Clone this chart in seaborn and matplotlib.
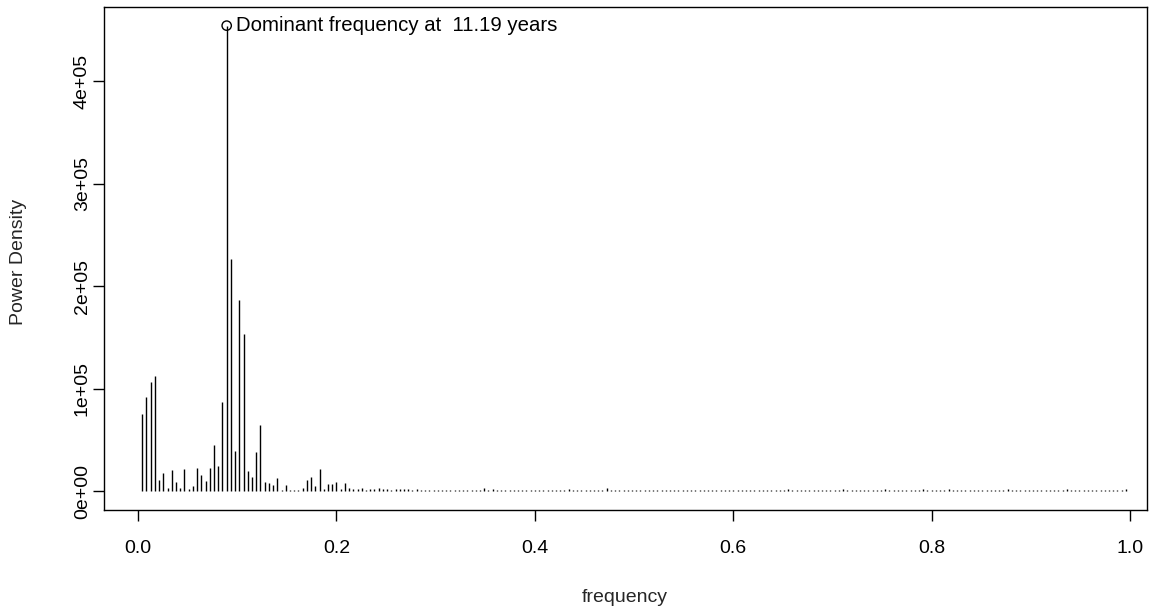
import numpy as np
import pandas as pd
import matplotlib
matplotlib.use("Agg")
import matplotlib.pyplot as plt
import seaborn as sns

# ---- data -------------------------------------------------------------
n_len = 235
harmonic = list(range(1, 235))           # k = 1..234, frequency = k / n_len
power_low_k = [                           # k = 1..66, thousands
    75.8, 92.0, 106.6, 112.0, 10.7, 18.0, 3.0, 20.5, 9.0, 3.0,
    21.5, 2.0, 5.0, 22.7, 15.6, 9.8, 22.7, 45.5, 24.4, 87.0,
    454.0, 227.0, 39.0, 187.0, 153.0, 19.5, 14.0, 38.4, 64.4, 8.8,
    8.0, 5.9, 12.7, 1.3, 5.9, 1.3, 1.3, 1.3, 3.6, 11.0,
    13.7, 5.0, 21.5, 2.3, 7.0, 7.5, 9.0, 2.5, 8.5, 3.0,
    2.0, 2.5, 3.0, 1.5, 2.0, 2.5, 3.0, 2.0, 2.0, 1.5,
    2.0, 2.0, 2.0, 2.0, 1.5, 2.5,
]
power_high_k = [                          # k = 67..234, thousands
    1.8, 1.2, 1.5, 1.0, 1.4, 1.6, 1.1, 1.3, 1.7, 1.0, 1.2, 1.5,
    1.1, 1.4, 1.6, 3.5, 1.2, 2.5, 1.3, 1.0, 1.4, 1.2, 1.1, 1.5,
    1.0, 1.3, 1.2, 1.4, 1.1, 1.0, 1.3, 1.2, 1.5, 1.1, 1.4, 2.5,
    1.2, 1.0, 1.3, 1.1, 1.4, 1.2, 1.0, 1.6, 3.0, 1.3, 1.1, 1.2,
    1.0, 1.1, 1.3, 1.2, 1.0, 1.1, 1.2, 1.0, 1.3, 1.1, 1.0, 1.2,
    1.1, 1.0, 1.2, 1.3, 1.0, 1.1, 1.2, 1.0, 1.1, 1.3, 1.0, 1.2,
    1.1, 1.0, 1.2, 1.1, 1.0, 1.3, 1.1, 1.0, 1.2, 1.1, 1.0, 1.2,
    1.1, 1.3, 1.4, 2.4, 1.2, 1.0, 1.3, 1.1, 1.2, 1.0, 1.1, 1.3,
    1.2, 1.0, 1.1, 1.4, 2.3, 1.2, 1.0, 1.1, 1.3, 1.2, 1.0, 1.1,
    1.3, 1.4, 2.4, 1.2, 1.1, 1.0, 1.3, 1.2, 1.1, 1.4, 1.3, 2.3,
    1.2, 1.1, 1.3, 1.0, 1.4, 2.4, 1.2, 1.1, 1.0, 1.3, 1.2, 1.1,
    1.0, 1.2, 1.1, 1.3, 1.2, 1.4, 1.3, 2.2, 1.1, 1.0, 1.2, 1.1,
    1.3, 1.0, 1.1, 1.2, 1.0, 1.3, 1.2, 1.4, 1.3, 2.5, 1.1, 1.2,
    1.0, 1.1, 1.3, 1.2, 1.0, 1.1, 1.2, 1.0, 1.3, 1.1, 1.2, 2.0,
]
x_ticks = [0.0, 0.2, 0.4, 0.6, 0.8, 1.0]
x_tick_labels = ["0.0", "0.2", "0.4", "0.6", "0.8", "1.0"]
y_ticks = [0, 100000, 200000, 300000, 400000]
y_tick_labels = ["0e+00", "1e+05", "2e+05", "3e+05", "4e+05"]
annotation = "Dominant frequency at  11.19 years"

# ---- frame ------------------------------------------------------------
df = pd.DataFrame({
    "frequency": np.array(harmonic) / n_len,
    "power": np.array(power_low_k + power_high_k) * 1000.0,
})
peak = df.loc[df["power"].idxmax()]

sns.set_theme(style="ticks")
plt.rcParams["font.family"] = ["Liberation Sans", "DejaVu Sans"]
FS = 14

fig = plt.figure(figsize=(11.55, 6.08), dpi=100)
ax = fig.add_axes([104 / 1155, 1 - 510 / 608, (1147 - 104) / 1155, (510 - 7) / 608])

ax.vlines(df["frequency"], 0, df["power"], colors="black", linewidth=1.0)
sns.scatterplot(x=[peak["frequency"]], y=[peak["power"]], ax=ax, marker="o",
                s=45, facecolors="none", edgecolor="black", linewidth=1.0,
                zorder=3, legend=False)
ax.annotate(annotation, xy=(peak["frequency"], peak["power"]),
            xytext=(7, 0), textcoords="offset points",
            ha="left", va="center", fontsize=14.7, color="black")

ax.set_xlim(-0.0343, 1.017)
yr = df["power"].max()
ax.set_ylim(-0.04 * yr, yr * 1.04)

ax.set_xticks(x_ticks)
ax.set_xticklabels(x_tick_labels)
ax.set_yticks(y_ticks)
ax.set_yticklabels(y_tick_labels, rotation=90, va="center")
ax.tick_params(axis="x", length=8, width=1, pad=13.5, labelsize=FS, colors="black")
ax.tick_params(axis="y", length=8, width=1, pad=1.5, labelsize=FS, colors="black")
for s in ax.spines.values():
    s.set_visible(True)
    s.set_color("black")
    s.set_linewidth(1.0)
ax.set_xlabel("")
ax.set_ylabel("")
ax.grid(False)

fig.text(625 / 1155, 1 - 597 / 608, "frequency", ha="center", va="center", fontsize=FS)
fig.text(19 / 1155, 1 - 262 / 608, "Power Density", ha="center", va="center",
         rotation=90, fontsize=FS)

fig.savefig("out.png", dpi=100, facecolor="white")
